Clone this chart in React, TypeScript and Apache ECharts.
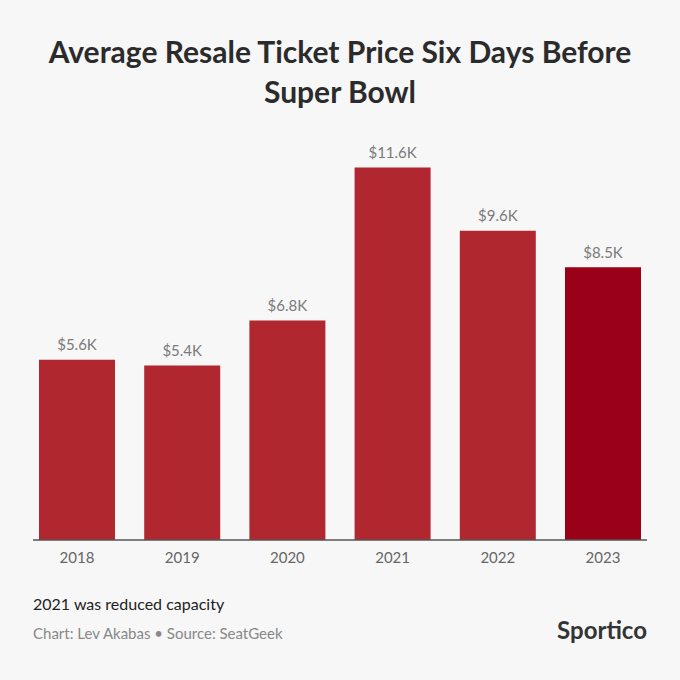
import React, { useEffect, useRef } from "react";
import * as echarts from "echarts";

const years = ["2018", "2019", "2020", "2021", "2022", "2023"];
const prices = [5620, 5440, 6840, 11610, 9640, 8500];
const barColors = ["#b1272f", "#b1272f", "#b1272f", "#b1272f", "#b1272f", "#9b0019"];
const titleText = "Average Resale Ticket Price Six Days Before\nSuper Bowl";
const noteText = "2021 was reduced capacity";
const sourceText = "Chart: Lev Akabas • Source: SeatGeek";
const brandText = "Sportico";

const FONT = "Lato, 'Noto Sans', sans-serif";

export default function App() {
  const ref = useRef<HTMLDivElement>(null);
  useEffect(() => {
    document.body.style.margin = "0";
    if (!ref.current) return;
    const chart = echarts.init(ref.current, null, { renderer: "svg" });
    chart.setOption({
      animation: false,
      backgroundColor: "#f7f7f7",
      title: {
        text: titleText,
        left: "center",
        top: 26,
        textStyle: {
          fontFamily: FONT,
          fontSize: 30,
          fontWeight: "bold",
          color: "#2b2b2b",
          lineHeight: 40,
        },
      },
      grid: { left: 24.4, right: 24.4, top: 155, bottom: 140 },
      xAxis: {
        type: "category",
        data: years,
        axisLine: { show: false },
        axisTick: { show: false },
        axisLabel: {
          color: "#666666",
          fontFamily: FONT,
          fontSize: 15,
          margin: 9,
        },
      },
      yAxis: {
        type: "value",
        min: 0,
        max: 12000,
        show: false,
        splitLine: { show: false },
      },
      series: [
        {
          type: "bar",
          barWidth: 76,
          data: prices.map((v, i) => ({ value: v, itemStyle: { color: barColors[i] } })),
          label: {
            show: true,
            position: "top",
            distance: 8,
            color: "#7a7a7a",
            fontFamily: FONT,
            fontSize: 15,
            formatter: (p: any) => "$" + (p.value / 1000).toFixed(1) + "K",
          },
        },
      ],
      graphic: [
        {
          type: "line",
          shape: { x1: 33, y1: 540, x2: 647, y2: 540 },
          style: { stroke: "#555555", lineWidth: 1.5 },
          z: 10,
        },
        {
          type: "text",
          left: 33,
          top: 595,
          style: { text: noteText, fontFamily: FONT, fontSize: 16, fill: "#222222" },
        },
        {
          type: "text",
          left: 33,
          top: 625,
          style: { text: sourceText, fontFamily: FONT, fontSize: 15, fill: "#888888" },
        },
        {
          type: "text",
          right: 33,
          top: 617,
          style: {
            text: brandText,
            fontFamily: FONT,
            fontSize: 24,
            fontWeight: "bold",
            fill: "#333333",
          },
        },
      ],
    });
    return () => chart.dispose();
  }, []);
  return <div ref={ref} style={{ width: 680, height: 680 }} />;
}
